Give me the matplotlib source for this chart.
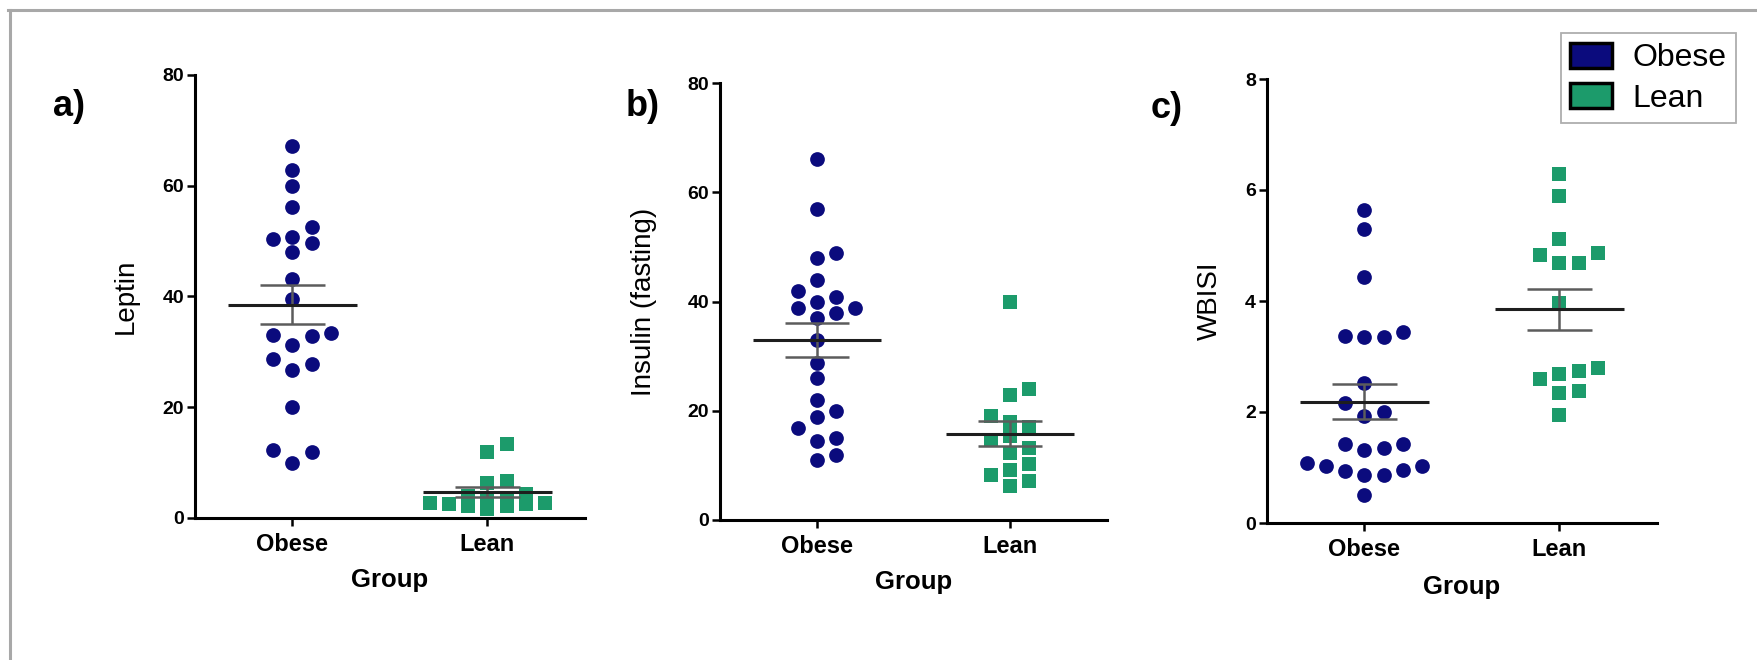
import numpy as np
import matplotlib
matplotlib.use("Agg")
import matplotlib.pyplot as plt
from matplotlib.patches import Patch
from matplotlib.lines import Line2D

plt.rcParams['font.family'] = ['Liberation Sans', 'DejaVu Sans']

# ---------------- data ----------------
groups = ["Obese", "Lean"]

leptin_obese = [67.1, 62.8, 59.9, 56.2, 52.6, 50.8, 49.6, 50.3, 48.1, 43.1, 39.5,
                33.4, 32.9, 33.0, 31.2, 28.8, 27.8, 26.8, 20.1, 12.3, 12.0, 9.9]
leptin_lean = [13.4, 11.9, 6.7, 6.3, 4.4, 3.9, 3.7, 3.4, 2.7, 2.5, 2.1, 1.6, 2.1, 2.5, 2.7]

insulin_obese = [66.0, 56.9, 48.9, 47.9, 44.0, 42.0, 40.9, 39.9, 38.9, 38.9, 37.9, 36.9,
                 33.0, 28.8, 26.0, 22.0, 20.0, 18.9, 16.9, 15.0, 14.4, 11.9, 10.9]
insulin_lean = [39.9, 24.0, 22.9, 19.1, 17.0, 18.0, 15.3, 14.6, 13.2, 12.2, 10.2, 9.2,
                8.2, 7.2, 6.3]

wbisi_obese = [5.64, 5.30, 4.44, 3.45, 3.36, 3.36, 3.37, 2.52, 2.16, 2.00, 1.92, 1.43,
               1.32, 1.35, 1.43, 1.02, 0.96, 0.87, 0.86, 0.93, 1.02, 1.08, 0.50]
wbisi_lean = [6.28, 5.89, 5.11, 4.82, 4.86, 4.69, 4.69, 3.97, 2.68, 2.74, 2.79, 2.59,
              2.37, 2.35, 1.94]

panel_letters = ["a)", "b)", "c)"]
y_labels = ["Leptin", "Insulin (fasting)", "WBISI"]
x_label = "Group"
y_ticks = [[0, 20, 40, 60, 80], [0, 20, 40, 60, 80], [0, 2, 4, 6, 8]]

panel_data = [(leptin_obese, leptin_lean),
              (insulin_obese, insulin_lean),
              (wbisi_obese, wbisi_lean)]

# ---------------- style ----------------
W, H = 1758, 660
OBESE_C = "#0b0b7d"
LEAN_C = "#1c9b6b"
CIRCLE_PT = 10.6
SQUARE_PT = 9.8
STEP = 0.099          # horizontal spacing of swarm columns (data units)

fig = plt.figure(figsize=(W / 100, H / 100), dpi=100)
fig.patch.set_facecolor("white")

# axes boxes in pixels: left, right, top, bottom
boxes = [(195, 585, 75, 518), (720, 1107, 83, 520), (1267, 1657, 79, 523)]
letter_pos = [(69, 107), (643, 106), (1167, 108)]
ylabel_x = [126, 644, 1210]
xlabel_y = [580, 582, 587]


def swarm(values, px_per_unit, diam_px, max_slot=3):
    """Simple column-based beeswarm: slots 0, +1, -1, +2, -2 ..."""
    vals = np.asarray(values, float)
    order = np.argsort(vals, kind="stable")
    seq = [0]
    for k in range(1, 12):
        seq += [k, -k]
    placed = {}
    slots = np.zeros(len(vals), int)
    thr = diam_px / px_per_unit
    for i in order:
        v = vals[i]
        chosen = None
        for s in seq:
            if abs(s) > max_slot:
                break
            if all(abs(v - u) >= thr for u in placed.get(s, [])):
                chosen = s
                break
        if chosen is None:
            best, bestd = 0, -1
            for s in seq:
                if abs(s) > max_slot:
                    break
                d = min([abs(v - u) for u in placed.get(s, [])] or [1e9])
                if d > bestd + 1e-9:
                    best, bestd = s, d
            chosen = best
        placed.setdefault(chosen, []).append(v)
        slots[i] = chosen
    return slots


for p in range(3):
    l, r, t, b = boxes[p]
    ax = fig.add_axes([l / W, 1 - b / H, (r - l) / W, (b - t) / H])
    ymax = y_ticks[p][-1]
    ax.set_xlim(-0.5, 1.5)
    ax.set_ylim(0, ymax)
    px_per_unit = (b - t) / ymax

    for gi, (vals, col, mk, ms) in enumerate(zip(panel_data[p], [OBESE_C, LEAN_C],
                                                  ["o", "s"], [CIRCLE_PT, SQUARE_PT])):
        vals = np.asarray(vals, float)
        slots = swarm(vals, px_per_unit, ms / 0.72 * 0.98)
        ax.plot(gi + slots * STEP, vals, linestyle="none", marker=mk, markersize=ms,
                markerfacecolor=col, markeredgewidth=0, clip_on=False, zorder=2)
        m = vals.mean()
        sem = vals.std(ddof=1) / np.sqrt(len(vals))
        ax.hlines(m, gi - 0.33, gi + 0.33, color="#1e1e1e", lw=2.2, zorder=4)
        ax.hlines([m - sem, m + sem], gi - 0.165, gi + 0.165, color="#5c5c5c", lw=1.8, zorder=3)
        ax.vlines(gi, m - sem, m + sem, color="#5c5c5c", lw=1.8, zorder=3)

    for s in ["top", "right"]:
        ax.spines[s].set_visible(False)
    for s in ["left", "bottom"]:
        ax.spines[s].set_linewidth(2.2)
        ax.spines[s].set_color("black")

    ax.set_xticks([0, 1])
    ax.set_xticklabels(groups, fontsize=17, fontweight="bold")
    ax.set_yticks(y_ticks[p])
    ax.set_yticklabels([str(v) for v in y_ticks[p]], fontsize=14, fontweight="bold")
    ax.tick_params(axis="both", direction="out", length=6, width=1.8, color="black")
    ax.tick_params(axis="y", pad=2)
    ax.tick_params(axis="x", pad=5)

    ax.set_ylabel(y_labels[p], fontsize=20)
    ax.yaxis.label.set_verticalalignment("center")
    ax.yaxis.set_label_coords((ylabel_x[p] - l) / (r - l), 0.5)
    ax.set_xlabel(x_label, fontsize=18.5, fontweight="bold")
    ax.xaxis.label.set_verticalalignment("center")
    ax.xaxis.set_label_coords(0.5, (b - xlabel_y[p]) / (b - t))

    lx, ly = letter_pos[p]
    fig.text(lx / W, 1 - ly / H, panel_letters[p], fontsize=26, fontweight="bold",
             ha="center", va="center")

# legend
handles = [Patch(facecolor=OBESE_C, edgecolor="black", linewidth=2.5, joinstyle="round"),
           Patch(facecolor=LEAN_C, edgecolor="black", linewidth=2.5, joinstyle="round")]
leg = fig.legend(handles, groups, loc="upper right", bbox_to_anchor=(1736 / W, 1 - 33 / H),
                 frameon=True, fancybox=False, edgecolor="#9a9a9a", fontsize=23,
                 handlelength=1.3, handleheight=0.85, handletextpad=0.65,
                 labelspacing=0.3, borderpad=0.3, borderaxespad=0)
leg.get_frame().set_linewidth(1.3)

# outer gray frame (top and left edges)
fig.add_artist(Line2D([8 / W, 1], [1 - 10 / H, 1 - 10 / H], color="#a8a8a8", lw=2.2,
                      transform=fig.transFigure))
fig.add_artist(Line2D([9.5 / W, 9.5 / W], [0, 1 - 10 / H], color="#a8a8a8", lw=2.2,
                      transform=fig.transFigure))

fig.savefig("out.png", dpi=100, facecolor="white")
